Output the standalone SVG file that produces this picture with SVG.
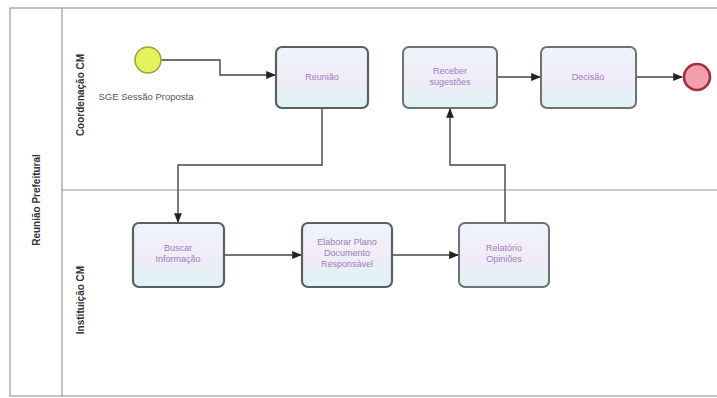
<svg xmlns="http://www.w3.org/2000/svg" width="717" height="398" viewBox="0 0 717 398">
<defs>
<linearGradient id="tg" x1="0" y1="0" x2="0" y2="1">
<stop offset="0" stop-color="#eef4fb"/>
<stop offset="0.5" stop-color="#f1ecf8"/>
<stop offset="1" stop-color="#dff2f6"/>
</linearGradient>
<marker id="ar" viewBox="0 0 10 10" refX="9" refY="5" markerWidth="7" markerHeight="7" orient="auto">
<path d="M0,1 L10,5 L0,9 z" fill="#222"/>
</marker>
<style>
.task{fill:url(#tg);stroke:#56625f;stroke-width:2.2}
.task2{fill:url(#tg);stroke:#6d7372;stroke-width:2}
.lbl{font-family:"Liberation Sans",Arial,sans-serif;font-size:9px;fill:#a07cc0;text-anchor:middle}
.lane{font-family:"Liberation Sans",Arial,sans-serif;font-size:10px;font-weight:bold;fill:#333;text-anchor:middle}
.conn{fill:none;stroke:#444;stroke-width:1.4;marker-end:url(#ar)}
.frame{fill:none;stroke:#999;stroke-width:1.2}
</style>
</defs>
<rect width="717" height="398" fill="#fff"/>
<g id="pool">
<rect class="frame" x="10" y="8" width="708" height="388"/>
<line class="frame" x1="62" y1="8" x2="62" y2="396"/>
<line class="frame" x1="62" y1="190" x2="717" y2="190"/>
<text class="lane" transform="translate(40,200) rotate(-90)">Reunião Prefeitural</text>
<text class="lane" font-size="9" transform="translate(84,95) rotate(-90)">Coordenação CM</text>
<text class="lane" font-size="9" transform="translate(84,300) rotate(-90)">Instituição CM</text>
</g>
<g id="connectors">
<path class="conn" d="M161,60 H220 V75 H275"/>
<path class="conn" d="M497,77 H540"/>
<path class="conn" d="M636,77 H682"/>
<path class="conn" d="M322,108 V165 H178 V222"/>
<path class="conn" d="M224,255 H301"/>
<path class="conn" d="M392,255 H458"/>
<path class="conn" d="M505,223 V165 H450 V109"/>
</g>
<g id="start">
<circle cx="148" cy="60" r="13" fill="#e4f25c" stroke="#9aa33a" stroke-width="1.5"/>
<text class="lbl" x="146" y="100" style="fill:#555;font-size:9.5px">SGE Sessão Proposta</text>
</g>
<g id="t1">
<rect class="task" x="276" y="47" width="92" height="61" rx="6"/>
<text class="lbl" x="322" y="80">Reunião</text>
</g>
<g id="t2">
<rect class="task2" x="403" y="47" width="94" height="61" rx="6"/>
<text class="lbl" x="450" y="74">Receber</text>
<text class="lbl" x="450" y="85">sugestões</text>
</g>
<g id="t3">
<rect class="task2" x="541" y="47" width="95" height="61" rx="6"/>
<text class="lbl" x="588" y="80">Decisão</text>
</g>
<g id="end">
<circle cx="697" cy="77" r="13" fill="#f2a0b0" stroke="#a0303c" stroke-width="2.6"/>
</g>
<g id="t4">
<rect class="task" x="133" y="223" width="91" height="64" rx="6"/>
<text class="lbl" x="178" y="251">Buscar</text>
<text class="lbl" x="178" y="262">Informação</text>
</g>
<g id="t5">
<rect class="task" x="302" y="223" width="90" height="64" rx="6"/>
<text class="lbl" x="347" y="245">Elaborar Plano</text>
<text class="lbl" x="347" y="256">Documento</text>
<text class="lbl" x="347" y="267">Responsável</text>
</g>
<g id="t6">
<rect class="task2" x="459" y="223" width="90" height="64" rx="6"/>
<text class="lbl" x="504" y="251">Relatório</text>
<text class="lbl" x="504" y="262">Opiniões</text>
</g>
</svg>
